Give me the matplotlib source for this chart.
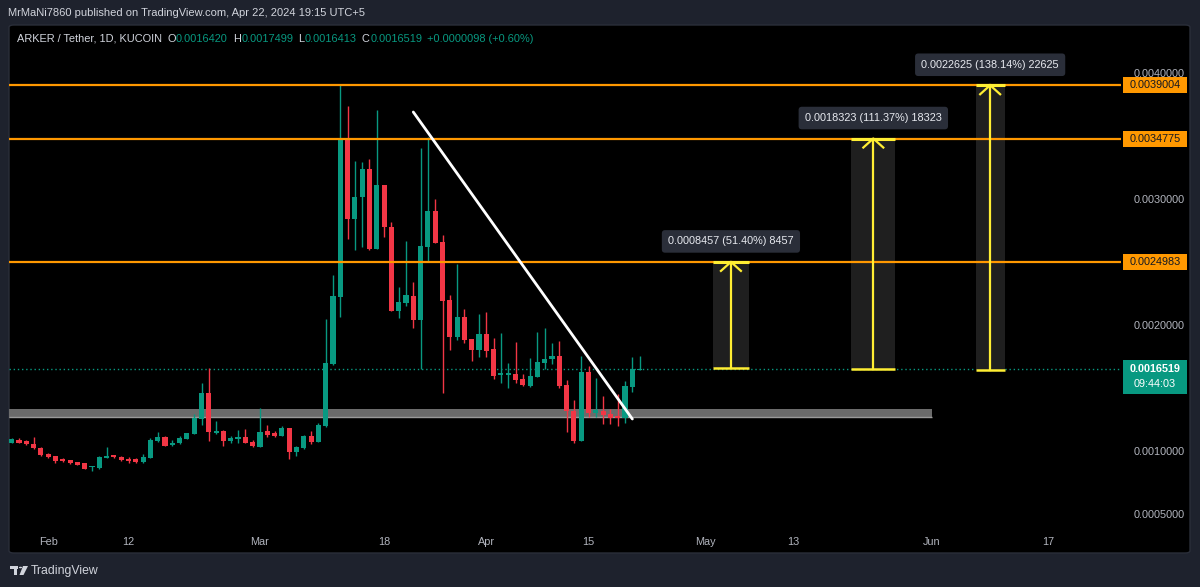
import numpy as np
import pandas as pd
import matplotlib
matplotlib.use('Agg')
import matplotlib.pyplot as plt
import matplotlib.dates as mdates
from matplotlib.patches import Rectangle, FancyBboxPatch, Polygon, Circle
from matplotlib.transforms import blended_transform_factory

plt.rcParams['font.family'] = ['Liberation Sans', 'DejaVu Sans']

# ---------------- data ----------------
dates = pd.date_range('2024-01-27', periods=87, freq='D')
opens = [0.0010635, 0.0010850, 0.0010746, 0.0010532, 0.0010238, 0.0009760, 0.0009580, 0.0009317, 0.0009238, 0.0009080,
         0.0009000, 0.0008680, 0.0008600, 0.0009440, 0.0009635, 0.0009500, 0.0009365, 0.0009317, 0.0009080, 0.0009440,
         0.0010770, 0.0011087, 0.0010430, 0.0010587, 0.0010930, 0.0011325, 0.0012490, 0.0014556, 0.0011400, 0.0011540,
         0.0010770, 0.0010950, 0.0011087, 0.0010690, 0.0010317, 0.0011590, 0.0011380, 0.0011190, 0.0011800, 0.0009900,
         0.0010190, 0.0011167, 0.0010710, 0.0011960, 0.0016880, 0.0022220, 0.0034775, 0.0028410, 0.0030160, 0.0032330,
         0.0026030, 0.0031060, 0.0027730, 0.0021060, 0.0021700, 0.0022280, 0.0020370, 0.0026190, 0.0029050, 0.0026590,
         0.0021940, 0.0019050, 0.0020590, 0.0018860, 0.0017990, 0.0019260, 0.0018070, 0.0016010, 0.0016000, 0.0016060,
         0.0015690, 0.0015160, 0.0015850, 0.0016960, 0.0017250, 0.0017540, 0.0015210, 0.0013150, 0.0010790, 0.0016270,
         0.0012970, 0.0013150, 0.0012910, 0.0012700, 0.0012620, 0.0015080, 0.0016420]
highs = [0.0011008, 0.0011008, 0.0010825, 0.0011087, 0.0010294, 0.0009817, 0.0009580, 0.0009397, 0.0009260, 0.0009080,
         0.0009000, 0.0008780, 0.0009580, 0.0010270, 0.0009660, 0.0009550, 0.0009476, 0.0009420, 0.0009740, 0.0010980,
         0.0011460, 0.0011167, 0.0010850, 0.0011140, 0.0011430, 0.0012910, 0.0015400, 0.0016560, 0.0012360, 0.0011650,
         0.0011167, 0.0011620, 0.0011700, 0.0010850, 0.0013390, 0.0012040, 0.0011540, 0.0011960, 0.0011800, 0.0010400,
         0.0011220, 0.0011540, 0.0012200, 0.0020450, 0.0023940, 0.0039004, 0.0037360, 0.0032990, 0.0032890, 0.0033150,
         0.0037020, 0.0031060, 0.0028150, 0.0022970, 0.0026670, 0.0023410, 0.0034020, 0.0034920, 0.0029950, 0.0027120,
         0.0022360, 0.0024820, 0.0021220, 0.0018860, 0.0020830, 0.0021030, 0.0018920, 0.0019320, 0.0016980, 0.0018650,
         0.0016060, 0.0017330, 0.0019400, 0.0019740, 0.0018550, 0.0018730, 0.0015610, 0.0014020, 0.0017540, 0.0016720,
         0.0015750, 0.0014340, 0.0013290, 0.0014500, 0.0015530, 0.0017410, 0.0017499]
lows = [0.0010600, 0.0010580, 0.0010429, 0.0010135, 0.0009580, 0.0009440, 0.0009024, 0.0009127, 0.0008944, 0.0008865,
        0.0008570, 0.0008365, 0.0008520, 0.0009397, 0.0009450, 0.0009180, 0.0009000, 0.0009050, 0.0009050, 0.0009440,
        0.0010710, 0.0010350, 0.0010380, 0.0010556, 0.0010905, 0.0011325, 0.0012040, 0.0010770, 0.0011325, 0.0010400,
        0.0010635, 0.0010587, 0.0010610, 0.0010270, 0.0010317, 0.0011110, 0.0011085, 0.0011140, 0.0009365, 0.0009580,
        0.0010160, 0.0010532, 0.0010690, 0.0011880, 0.0016800, 0.0020590, 0.0026830, 0.0025950, 0.0026190, 0.0025930,
        0.0026030, 0.0026980, 0.0021060, 0.0020530, 0.0021510, 0.0019710, 0.0016460, 0.0025000, 0.0026460, 0.0014560,
        0.0017990, 0.0018790, 0.0018520, 0.0017120, 0.0017460, 0.0017460, 0.0015670, 0.0015400, 0.0015000, 0.0015350,
        0.0015130, 0.0015080, 0.0015830, 0.0016480, 0.0016860, 0.0014950, 0.0011510, 0.0010635, 0.0010790, 0.0012650,
        0.0012700, 0.0012140, 0.0012140, 0.0011980, 0.0012175, 0.0014680, 0.0016413]
closes = [0.0010905, 0.0010635, 0.0010508, 0.0010190, 0.0009659, 0.0009500, 0.0009206, 0.0009180, 0.0009024, 0.0008865,
          0.0008570, 0.0008760, 0.0009500, 0.0009600, 0.0009476, 0.0009238, 0.0009206, 0.0009080, 0.0009500, 0.0010850,
          0.0011087, 0.0010400, 0.0010635, 0.0010980, 0.0011380, 0.0012570, 0.0014580, 0.0011460, 0.0011590, 0.0010790,
          0.0011030, 0.0011110, 0.0010635, 0.0010370, 0.0011510, 0.0011220, 0.0011170, 0.0011800, 0.0009900, 0.0010270,
          0.0011167, 0.0010710, 0.0012040, 0.0016940, 0.0022280, 0.0034775, 0.0028410, 0.0030110, 0.0032330, 0.0025980,
          0.0031060, 0.0027780, 0.0021060, 0.0021780, 0.0022360, 0.0020370, 0.0026250, 0.0029050, 0.0026510, 0.0021880,
          0.0019050, 0.0020590, 0.0018810, 0.0017990, 0.0019260, 0.0017940, 0.0015930, 0.0016140, 0.0016130, 0.0015610,
          0.0015190, 0.0015900, 0.0017020, 0.0017300, 0.0017540, 0.0015160, 0.0013130, 0.0010770, 0.0016270, 0.0012970,
          0.0013250, 0.0012830, 0.0012620, 0.0012620, 0.0015160, 0.0016460, 0.0016519]

levels = [0.0039004, 0.0034775, 0.0024983]
level_labels = ['0.0039004', '0.0034775', '0.0024983']
last_price = 0.0016519
last_label = '0.0016519'
countdown = '09:44:03'
support_low, support_high = 0.0012595, 0.0013310
support_end = '2024-06-01'
trend_dates = ['2024-03-22', '2024-04-21']
trend_prices = [0.0036880, 0.0012516]
range_start = ['2024-05-02', '2024-05-21', '2024-06-07']
range_end = ['2024-05-07', '2024-05-27', '2024-06-11']
range_base = [0.0016526, 0.0016452, 0.0016379]
range_top = [0.0024983, 0.0034775, 0.0039004]
range_labels = ['0.0008457 (51.40%) 8457', '0.0018323 (111.37%) 18323', '0.0022625 (138.14%) 22625']
date_ticks = ['2024-02-01', '2024-02-12', '2024-03-01', '2024-03-18', '2024-04-01',
              '2024-04-15', '2024-05-01', '2024-05-13', '2024-06-01', '2024-06-17']
date_labels = ['Feb', '12', 'Mar', '18', 'Apr', '15', 'May', '13', 'Jun', '17']
price_ticks = [0.0005, 0.0010, 0.0015, 0.0020, 0.0030, 0.0040]
header_text = 'MrMaNi7860 published on TradingView.com, Apr 22, 2024 19:15 UTC+5'
symbol_text = 'ARKER / Tether, 1D, KUCOIN'
ohlc_names = ['O', 'H', 'L', 'C']
ohlc_values = ['0.0016420', '0.0017499', '0.0016413', '0.0016519']
change_text = '+0.0000098 (+0.60%)'

# ---------------- style ----------------
GREEN = '#089981'
RED = '#F23645'
ORANGE = '#FF9800'
YELLOW = '#FFEE33'
TXT = '#b2b5be'
BG = '#1e222d'

W, H = 1200, 587
fig = plt.figure(figsize=(W / 100, H / 100), dpi=100)
fig.patch.set_facecolor(BG)


def fbox(x0, y0, x1, y1):
    return [x0 / W, 1 - y1 / H, (x1 - x0) / W, (y1 - y0) / H]


panel = FancyBboxPatch((9 / W, 1 - 553 / H), (1190 - 9) / W, (553 - 25) / H,
                       boxstyle='round,pad=0,rounding_size=0.004', transform=fig.transFigure,
                       facecolor='black', edgecolor='#2a2e39', lw=1, zorder=-5)
fig.add_artist(panel)

ax = fig.add_axes(fbox(9, 25, 1121, 530))
ax.set_facecolor('none')
for s in ax.spines.values():
    s.set_visible(False)

feb1 = mdates.date2num(pd.Timestamp('2024-02-01'))
ax.set_xlim(feb1 - 5.368, feb1 + 146.92)
ax.set_ylim(0.0003706, 0.0043786)
px_y = (0.0043786 - 0.0003706) / 505.0
px_x = (146.92 + 5.368) / 1112.0

x = mdates.date2num(dates)
o = np.array(opens); h = np.array(highs); l = np.array(lows); c = np.array(closes)
cols = np.where(c >= o, GREEN, RED)
ax.vlines(x, l, h, colors=cols, lw=1, zorder=4)
ax.bar(x, np.maximum(np.abs(c - o), 1.2 * px_y), bottom=np.minimum(o, c), width=0.7,
       color=cols, lw=0, zorder=5)

# support zone
xl = ax.get_xlim()[0]
se = mdates.date2num(pd.Timestamp(support_end))
ax.add_patch(Rectangle((xl, support_low), se - xl, support_high - support_low,
                       facecolor='#6b6b6b', edgecolor='none', zorder=2))
ax.hlines(support_low + 0.6 * px_y, xl, se, color='#9a9a9a', lw=1, zorder=2.1)

# current price line
ax.axhline(last_price, color=GREEN, lw=1, ls=(0, (1, 2)), zorder=1.5)

# levels
for lv in levels:
    ax.axhline(lv, color=ORANGE, lw=1.6, zorder=6)

# trend line
ax.plot(mdates.date2num(pd.to_datetime(trend_dates)), trend_prices, color='white', lw=2,
        solid_capstyle='round', zorder=7)

# price ranges
for s_, e_, b_, t_, lab in zip(range_start, range_end, range_base, range_top, range_labels):
    s = mdates.date2num(pd.Timestamp(s_)); e = mdates.date2num(pd.Timestamp(e_))
    m = (s + e) / 2
    ax.add_patch(Rectangle((s, b_), e - s, t_ - b_, facecolor='#1f1f1f', edgecolor='none', zorder=3))
    ax.plot([m, m], [b_, t_], color=YELLOW, lw=1.6, zorder=8)
    ax.plot([m - 10 * px_x, m, m + 10 * px_x], [t_ - 9 * px_y, t_, t_ - 9 * px_y], color=YELLOW, lw=1.6, zorder=8)
    ax.hlines(t_, s, e, color=YELLOW, lw=2.2, zorder=8)
    ax.hlines(b_, s, e, color=YELLOW, lw=1.8, zorder=8)
    ax.text(m, t_ + 20.5 * px_y, lab, ha='center', va='center', color='#e8eaf0', fontsize=7.8,
            zorder=9, bbox=dict(boxstyle='round,pad=0.58,rounding_size=0.3', fc='#2a2e39', ec='none'))

# axes ticks
ax.yaxis.tick_right()
ax.set_yticks(price_ticks)
ax.set_yticklabels([f'{v:.7f}' for v in price_ticks])
ax.tick_params(axis='y', length=0, pad=9, labelsize=7.8, labelcolor=TXT)
ax.set_xticks(mdates.date2num(pd.to_datetime(date_ticks)))
ax.set_xticklabels(date_labels)
ax.tick_params(axis='x', length=0, pad=5, labelsize=7.8, labelcolor=TXT)

# axis label boxes
tr = blended_transform_factory(fig.transFigure, ax.transData)
for lv, lab in zip(levels, level_labels):
    ax.add_patch(Rectangle((1123 / W, lv - 8 * px_y), 64 / W, 16 * px_y, transform=tr,
                           facecolor=ORANGE, edgecolor='none', clip_on=False, zorder=10))
    ax.text(1155 / W, lv, lab, transform=tr, ha='center', va='center', fontsize=7.8,
            color='#131722', clip_on=False, zorder=11)
ax.add_patch(Rectangle((1123 / W, last_price - 25 * px_y), 64 / W, 33.5 * px_y, transform=tr,
                       facecolor=GREEN, edgecolor='none', clip_on=False, zorder=10))
ax.text(1155 / W, last_price, last_label, transform=tr, ha='center', va='center', fontsize=7.8,
        color='white', fontweight='bold', clip_on=False, zorder=11)
ax.text(1155 / W, last_price - 15.5 * px_y, countdown, transform=tr, ha='center', va='center',
        fontsize=7.8, color='white', clip_on=False, zorder=11)

# header texts
fig.text(8 / W, 1 - 13.5 / H, header_text, ha='left', va='center', fontsize=8.0, color='#d1d4dc')

renderer = fig.canvas.get_renderer()
xpos = 17
ypos = 1 - 38.5 / H


def put(txt, col, gap):
    global xpos
    t = fig.text(xpos / W, ypos, txt, ha='left', va='center', fontsize=7.9, color=col)
    bb = t.get_window_extent(renderer)
    xpos = xpos + bb.width + gap


put(symbol_text, '#d1d4dc', 5)
for n, v in zip(ohlc_names, ohlc_values):
    put(n, '#d1d4dc', 0.5)
    put(v, GREEN, 5)
put(change_text, GREEN, 0)

# TradingView logo
lc = '#d1d4dc'
fig.add_artist(Rectangle((10 / W, 1 - 569 / H), 8 / W, 3 / H, transform=fig.transFigure, fc=lc, ec='none'))
fig.add_artist(Rectangle((13.5 / W, 1 - 575 / H), 3 / W, 8 / H, transform=fig.transFigure, fc=lc, ec='none'))
fig.add_artist(Circle((20.5 / W, 1 - 567.5 / H), 1.6 / W, transform=fig.transFigure, fc=lc, ec='none'))
fig.add_artist(Polygon([(23 / W, 1 - 566 / H), (28 / W, 1 - 566 / H), (23.5 / W, 1 - 575 / H), (19.5 / W, 1 - 575 / H)],
                       closed=True, transform=fig.transFigure, fc=lc, ec='none'))
fig.text(31 / W, 1 - 571 / H, 'TradingView', ha='left', va='center', fontsize=8.8, color=lc)

fig.savefig('out.png', dpi=100, facecolor=BG)
